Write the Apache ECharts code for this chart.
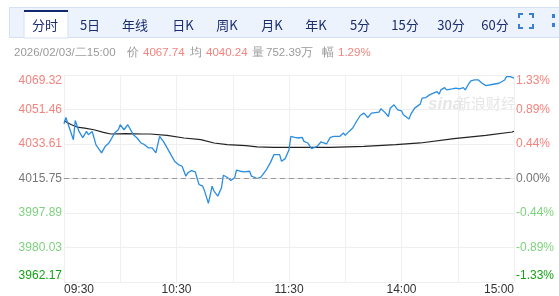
<!DOCTYPE html>
<html>
<head>
<meta charset="utf-8">
<script src="https://cdn.jsdelivr.net/npm/echarts@6/dist/echarts.min.js"></script>
<style>
html,body{margin:0;padding:0;background:#fff;}
#chart{width:559px;height:296px;}
</style>
</head>
<body>
<div id="chart"></div>
<script>
// ---- data ----
var preClose = 4015.75;
var step = 17.8583;
var leftTickLabels = ['3962.17','3980.03','3997.89','4015.75','4033.61','4051.46','4069.32'];
var rightTickLabels = ['-1.33%','-0.89%','-0.44%','0.00%','0.44%','0.89%','1.33%'];
var xTickPos = [0, 60, 120, 180, 240];
var xTickText = ['09:30', '10:30', '11:30', '14:00', '15:00'];
var tabs = ['分时','5日','年线','日K','周K','月K','年K','5分','15分','30分','60分'];

var priceMinutes = [0,1,5,6,8,9,10,12,13,15,16,17,20,22,24,25,27,29,30,32,33,34,36,37,39,41,43,45,47,49,
51,53,55,56,57,59,61,63,65,66,68,70,72,74,75,77,79,80,82,84,85,87,89,91,92,94,96,97,99,100,
103,105,106,108,110,112,113,115,116,118,120,121,123,125,127,128,130,132,133,135,137,138,140,142,144,147,149,150,152,154,
156,158,160,161,162,164,165,168,169,171,173,174,176,178,180,181,184,185,187,188,190,191,193,194,195,197,199,200,201,203,
204,205,207,208,209,210,211,212,213,214,216,217,219,221,223,225,226,229,232,233,235,236,238,239,240];
var priceValues = [4044.09,4047.33,4035.84,4045.79,4040.12,4040.99,4036.87,4040.12,4038.42,4040.12,4036.87,4033.27,4028.99,4032.39,4034.14,4035.84,4039.29,4040.99,4043.57,4040.99,4041.87,4043.57,4040.12,4038.42,4036.72,4034.14,4033.27,4031.57,4031.57,4028.99,
4037.54,4034.97,4031.57,4030.69,4028.11,4024.66,4022.96,4022.09,4016.93,4018.69,4019.87,4019.20,4012.66,4011.78,4009.21,4002.87,4011.78,4009.21,4006.63,4010.96,4017.45,4016.42,4014.72,4016.11,4020.03,4019.51,4019.20,4019.87,4019.51,4016.93,
4015.75,4016.42,4015.75,4020.39,4023.84,4028.11,4028.99,4028.11,4024.66,4026.05,4030.69,4037.54,4037.03,4036.72,4037.03,4034.97,4034.14,4031.21,4030.69,4032.39,4034.66,4033.63,4033.63,4037.03,4037.54,4037.54,4039.29,4038.06,4040.12,4041.87,
4045.27,4048.36,4049.60,4049.08,4047.33,4049.60,4050.42,4050.11,4051.81,4050.11,4047.85,4052.17,4053.87,4051.30,4050.78,4048.72,4046.51,4049.08,4052.17,4053.00,4054.24,4057.33,4057.64,4056.97,4059.03,4059.90,4060.73,4059.39,4061.60,4062.79,
4061.60,4061.09,4062.12,4061.60,4062.48,4063.30,4062.12,4061.60,4062.79,4061.60,4065.05,4066.24,4066.75,4066.75,4065.05,4063.82,4064.54,4064.54,4065.05,4065.88,4066.75,4068.45,4068.45,4067.63,4067.74];

var avgMinutes = [0,4,7,11,16,21,25,33,42,46,55,64,73,80,87,97,103,112,121,142,160,177,190,208,225,239,240];
var avgValues = [4045.6,4043.57,4042.39,4041.87,4040.99,4039.60,4038.78,4038.93,4038.78,4038.78,4038.06,4036.72,4035.84,4034.14,4033.27,4032.75,4032.08,4031.88,4031.88,4031.88,4032.39,4033.27,4034.14,4036.36,4038.06,4039.81,4040.24];

// ---- build ----
function toSeries(mins, vals) {
  return mins.map(function (m, i) { return [m, (vals[i] - preClose) / step]; });
}
var RED = '#f4837d', LGREEN = '#7dd27d', DGREEN = '#13a313', GRAY = '#777';
function labelColor(v) {
  v = Math.round(v);
  if (v > 0) return RED;
  if (v === 0) return GRAY;
  if (v === -3) return DGREEN;
  return LGREEN;
}

var graphics = [];
// tab bar
graphics.push({type:'rect', shape:{x:9.5,y:7.5,width:560,height:30}, style:{fill:'#edf3fc', stroke:'#d5e1f2', lineWidth:1}, silent:true});
graphics.push({type:'rect', shape:{x:24,y:11,width:44,height:27}, style:{fill:'#ffffff', stroke:'#d5e1f2', lineWidth:1}, silent:true});
graphics.push({type:'rect', shape:{x:24,y:10,width:44,height:2}, style:{fill:'#14286e'}, silent:true});
var tabX = [45, 90, 135, 183, 227, 272, 316, 360, 405, 451, 495];
tabs.forEach(function (t, i) {
  graphics.push({type:'text', x: tabX[i], y: 25, style:{text:t, fill:'#1b2d6e', font:'13px "Noto Sans CJK SC", sans-serif', align:'center', verticalAlign:'middle', textAlign:'center', textVerticalAlign:'middle'}, silent:true});
});
// fullscreen icon
var ic = '#3c7ed6';
[[519,18,519,14,523,14],[529,14,533,14,533,18],[519,24,519,28,523,28],[529,28,533,28,533,24]].forEach(function (p) {
  graphics.push({type:'polyline', shape:{points:[[p[0],p[1]],[p[2],p[3]],[p[4],p[5]]]}, style:{stroke:ic, lineWidth:2, fill:null}, silent:true});
});
graphics.push({type:'rect', shape:{x:552,y:14,width:3,height:4}, style:{fill:ic}, silent:true});
graphics.push({type:'rect', shape:{x:552,y:23,width:3,height:4}, style:{fill:ic}, silent:true});

// info row
var infoParts = [
  ['2026/02/03/二15:00', 14, '#9a9a9a'],
  ['价', 127, '#9a9a9a'],
  ['4067.74', 143, RED],
  ['均', 190, '#9a9a9a'],
  ['4040.24', 206, RED],
  ['量', 252, '#9a9a9a'],
  ['752.39万', 266, '#9a9a9a'],
  ['幅', 322, '#9a9a9a'],
  ['1.29%', 338, RED]
];
infoParts.forEach(function (p) {
  graphics.push({type:'text', x:p[1], y:53, style:{text:p[0], fill:p[2], font:'11.5px "Liberation Sans", Arial, sans-serif', align:'left', verticalAlign:'middle', textAlign:'left', textVerticalAlign:'middle'}, silent:true});
});
// watermark
graphics.push({type:'text', x:428, y:104, style:{text:'sina', fill:'#e6e6e6', font:'italic bold 17px "Liberation Sans", sans-serif', align:'left', verticalAlign:'middle'}, silent:true, z:-1});
graphics.push({type:'text', x:456, y:103, style:{text:'新浪财经', fill:'#e6e6e6', font:'15px "Noto Sans CJK SC", sans-serif', align:'left', verticalAlign:'middle'}, silent:true, z:-1});

var chart = echarts.init(document.getElementById('chart'), null, {renderer:'canvas'});
chart.setOption({
  animation: false,
  backgroundColor: '#fff',
  graphic: graphics,
  grid: {left: 64, right: 45, top: 75, bottom: 13, containLabel: false},
  xAxis: {
    type: 'value', min: 0, max: 240, interval: 30,
    axisLine: {show: true, lineStyle: {color: '#e2e2e2'}},
    axisTick: {show: false},
    splitLine: {show: true, lineStyle: {color: '#f0f0f0', width: 1}},
    axisLabel: {
      color: '#333', fontSize: 12, fontFamily: 'Liberation Sans, Arial, sans-serif', margin: 2,
      alignMinLabel: 'left', alignMaxLabel: 'right',
      formatter: function (v) { var k = xTickPos.indexOf(v); return k >= 0 ? xTickText[k] : ''; }
    }
  },
  yAxis: [{
    type: 'value', min: -3, max: 3, interval: 1, position: 'left',
    axisLine: {show: false}, axisTick: {show: false},
    splitLine: {show: true, lineStyle: {color: ['#efefef','#efefef','#efefef','rgba(0,0,0,0)','#efefef','#efefef','#efefef'], width: 1}},
    axisLabel: {
      fontSize: 12, fontFamily: 'Liberation Sans, Arial, sans-serif', margin: 2,
      verticalAlignMaxLabel: 'top', verticalAlignMinLabel: 'bottom',
      color: function (v) { return labelColor(v); },
      formatter: function (v) { return leftTickLabels[Math.round(v) + 3]; }
    }
  }, {
    type: 'value', min: -3, max: 3, interval: 1, position: 'right',
    axisLine: {show: false}, axisTick: {show: false}, splitLine: {show: false},
    axisLabel: {
      fontSize: 12, fontFamily: 'Liberation Sans, Arial, sans-serif', margin: 2,
      verticalAlignMaxLabel: 'top', verticalAlignMinLabel: 'bottom',
      color: function (v) { return labelColor(v); },
      formatter: function (v) { return rightTickLabels[Math.round(v) + 3]; }
    }
  }],
  series: [{
    type: 'line', name: 'avg', data: toSeries(avgMinutes, avgValues), showSymbol: false, smooth: false,
    lineStyle: {color: '#222', width: 1.2}, silent: true, z: 3
  }, {
    type: 'line', name: 'price', data: toSeries(priceMinutes, priceValues), showSymbol: false, smooth: false,
    lineStyle: {color: '#2b8de0', width: 1.3}, silent: true, z: 4,
    markLine: {
      silent: true, symbol: 'none', label: {show: false},
      lineStyle: {color: '#999', type: [5, 4], width: 1},
      data: [{yAxis: 0}]
    }
  }]
});
</script>
</body>
</html>
